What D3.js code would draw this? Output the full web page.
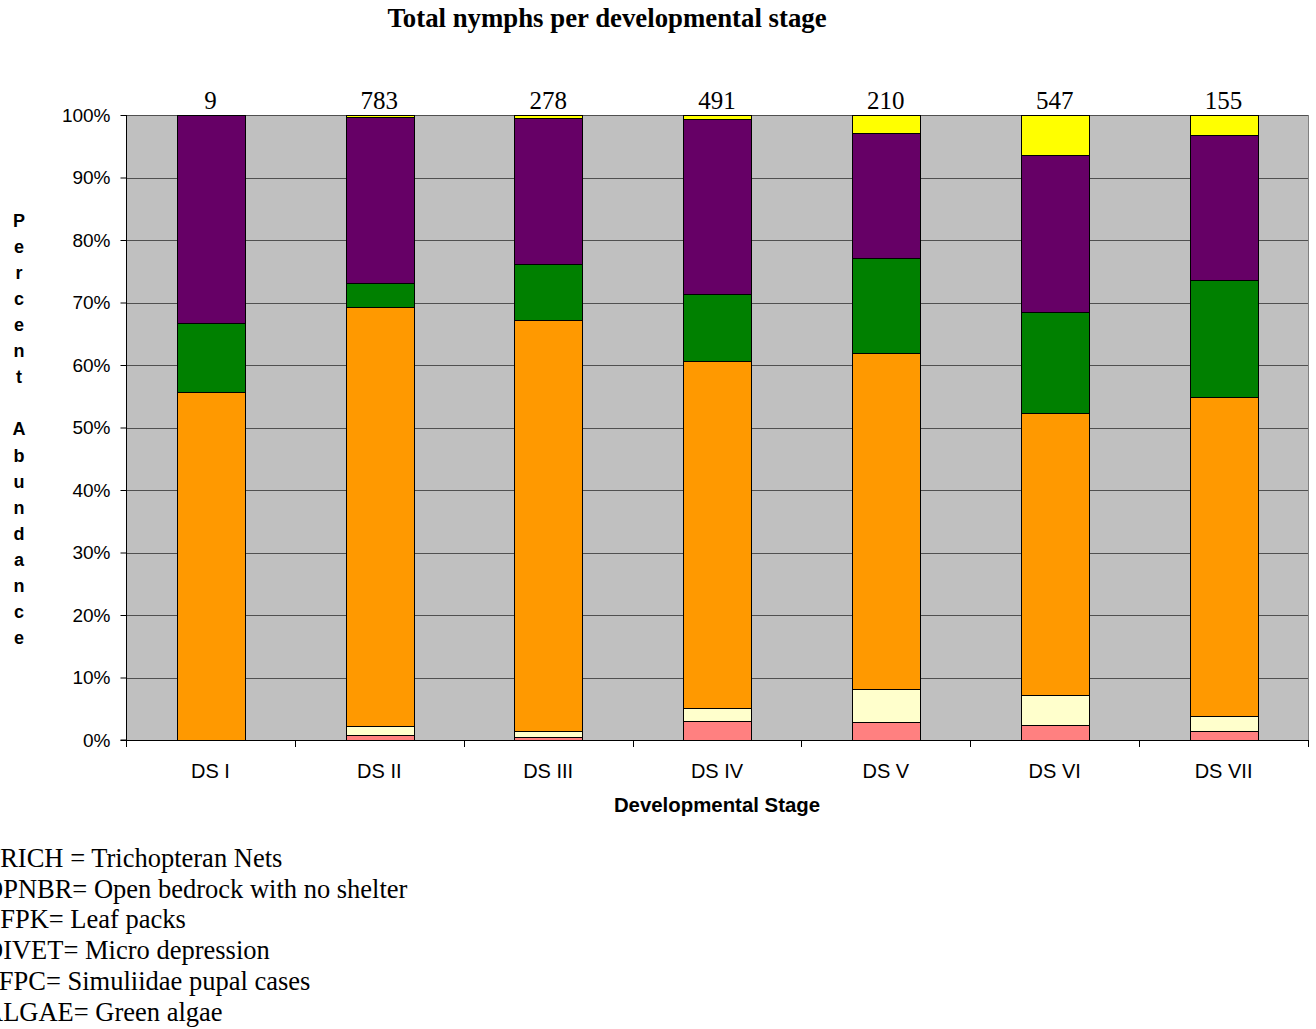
<!DOCTYPE html>
<html>
<head>
<meta charset="utf-8">
<script src="https://cdn.jsdelivr.net/npm/d3@7/dist/d3.min.js"></script>
<style>
  html, body { margin: 0; padding: 0; background: #fff; }
  svg { display: block; }
</style>
</head>
<body>
<svg id="chart" width="1316" height="1029"></svg>
<script>
// ---- data ----
const categories = ["DS I", "DS II", "DS III", "DS IV", "DS V", "DS VI", "DS VII"];
const totals = [9, 783, 278, 491, 210, 547, 155];
const seriesNames = ["S1", "S2", "S3", "S4", "S5", "S6"]; // bottom to top
const pinkVals   = [0,    0.8,  0.5,  3.0,  2.9,  2.4,   1.4];
const creamVals  = [0,    1.4,  1.0,  2.1,  5.2,  4.75,  2.4];
const orangeVals = [55.6, 67.1, 65.7, 55.5, 53.8, 45.15, 51.1];
const greenVals  = [11.1, 3.8,  9.0,  10.8, 15.2, 16.2,  18.7];
const purpleVals = [33.3, 26.6, 23.4, 28.0, 20.0, 25.1,  23.2];
const yellowVals = [0,    0.3,  0.4,  0.6,  2.9,  6.4,   3.2];
const seriesColors = ["#FF8080", "#FFFFCC", "#FF9900", "#008000", "#660066", "#FFFF00"];
const yTicks = [0, 10, 20, 30, 40, 50, 60, 70, 80, 90, 100];
const chartTitle = "Total nymphs per developmental stage";
const xTitle = "Developmental Stage";
const yTitle = "Percent Abundance";
const legendLines = [
  "TRICH = Trichopteran Nets",
  "OPNBR= Open bedrock with no shelter",
  "LFPK= Leaf packs",
  "DIVET= Micro depression",
  "SFPC= Simuliidae pupal cases",
  "ALGAE= Green algae"
];

// ---- layout ----
const L = 126, R = 1308, T = 115, B = 740;
const svg = d3.select("#chart");

const x = d3.scaleBand().domain(categories).range([L, R]).paddingInner(0.6).paddingOuter(0.3);
const y = d3.scaleLinear().domain([0, 100]).range([B, T]);

// rows for stack
const allVals = [pinkVals, creamVals, orangeVals, greenVals, purpleVals, yellowVals];
const rows = categories.map((c, i) => {
  const r = { cat: c };
  seriesNames.forEach((s, k) => r[s] = allVals[k][i]);
  return r;
});
const stacked = d3.stack().keys(seriesNames)(rows);

// plot background
svg.append("rect").attr("x", L).attr("y", T).attr("width", R - L).attr("height", B - T)
  .attr("fill", "#C0C0C0");

// gridlines
svg.append("g").selectAll("line").data(yTicks.filter(d => d > 0)).join("line")
  .attr("x1", L).attr("x2", R)
  .attr("y1", d => Math.round(y(d)) + 0.5).attr("y2", d => Math.round(y(d)) + 0.5)
  .attr("stroke", "#505050").attr("stroke-width", 1);

// right border
svg.append("line").attr("x1", R + 0.5).attr("x2", R + 0.5).attr("y1", T).attr("y2", B)
  .attr("stroke", "#808080").attr("stroke-width", 1);

// bars
svg.append("g").selectAll("g").data(stacked).join("g")
  .attr("fill", (d, i) => seriesColors[i])
  .selectAll("rect").data(d => d.filter(p => p[1] - p[0] > 0)).join("rect")
  .attr("x", d => Math.round(x(d.data.cat)) + 0.5)
  .attr("width", Math.round(x.bandwidth()))
  .attr("y", d => Math.round(y(d[1])) + 0.5)
  .attr("height", d => Math.max(0, Math.round(y(d[0])) - Math.round(y(d[1]))))
  .attr("stroke", "#000").attr("stroke-width", 1);

// x axis line and ticks at category boundaries
const step = x.step();
const bounds = categories.map(c => x(c) - (step - x.bandwidth()) / 2).concat([R]);
svg.append("line").attr("x1", L).attr("x2", R + 1).attr("y1", B + 0.5).attr("y2", B + 0.5)
  .attr("stroke", "#000");
svg.append("g").selectAll("line").data(bounds).join("line")
  .attr("x1", d => Math.round(d) + 0.5).attr("x2", d => Math.round(d) + 0.5)
  .attr("y1", B).attr("y2", B + 7).attr("stroke", "#000");

// x category labels
svg.append("g").selectAll("text").data(categories).join("text")
  .attr("x", d => x(d) + x.bandwidth() / 2)
  .attr("y", 778)
  .attr("text-anchor", "middle")
  .attr("font-family", "Liberation Sans, Arial, sans-serif")
  .attr("font-size", 20)
  .text(d => d);

// y axis
const yAxis = d3.axisLeft(y).tickValues(yTicks).tickFormat(d => d + "%").tickSize(6).tickPadding(10);
const gy = svg.append("g").attr("transform", `translate(${L + 0.5},0)`).call(yAxis);
gy.select(".domain").attr("stroke", "#000").attr("d", `M-6,${B}H0V${T}`);
gy.selectAll(".tick line").attr("stroke", "#000");
gy.selectAll(".tick text").attr("font-family", "Liberation Sans, Arial, sans-serif")
  .attr("font-size", 19).attr("fill", "#000");

// totals above bars
svg.append("g").selectAll("text").data(categories).join("text")
  .attr("x", (d, i) => x(d) + x.bandwidth() / 2)
  .attr("y", 109)
  .attr("text-anchor", "middle")
  .attr("font-family", "Liberation Serif, Times New Roman, serif")
  .attr("font-size", 25)
  .text((d, i) => totals[i]);

// title
svg.append("text").attr("x", 607).attr("y", 27).attr("text-anchor", "middle")
  .attr("font-family", "Liberation Serif, Times New Roman, serif")
  .attr("font-weight", "bold").attr("font-size", 26.8)
  .text(chartTitle);

// x title
svg.append("text").attr("x", 717).attr("y", 812).attr("text-anchor", "middle")
  .attr("font-family", "Liberation Sans, Arial, sans-serif")
  .attr("font-weight", "bold").attr("font-size", 20.4)
  .text(xTitle);

// y title: stacked letters
const yt = svg.append("text")
  .attr("font-family", "Liberation Sans, Arial, sans-serif")
  .attr("font-weight", "bold").attr("font-size", 18)
  .attr("text-anchor", "middle");
yt.selectAll("tspan").data(yTitle.split("")).join("tspan")
  .attr("x", 19)
  .attr("y", (d, i) => 227 + i * 26.06)
  .text(d => d === " " ? "\u00A0" : d);

// legend text lines (clipped at left edge as in reference)
svg.append("g").selectAll("text").data(legendLines).join("text")
  .attr("x", -16)
  .attr("y", (d, i) => 867 + i * 30.7)
  .attr("font-family", "Liberation Serif, Times New Roman, serif")
  .attr("font-size", 26.5)
  .text(d => d);
</script>
</body>
</html>
